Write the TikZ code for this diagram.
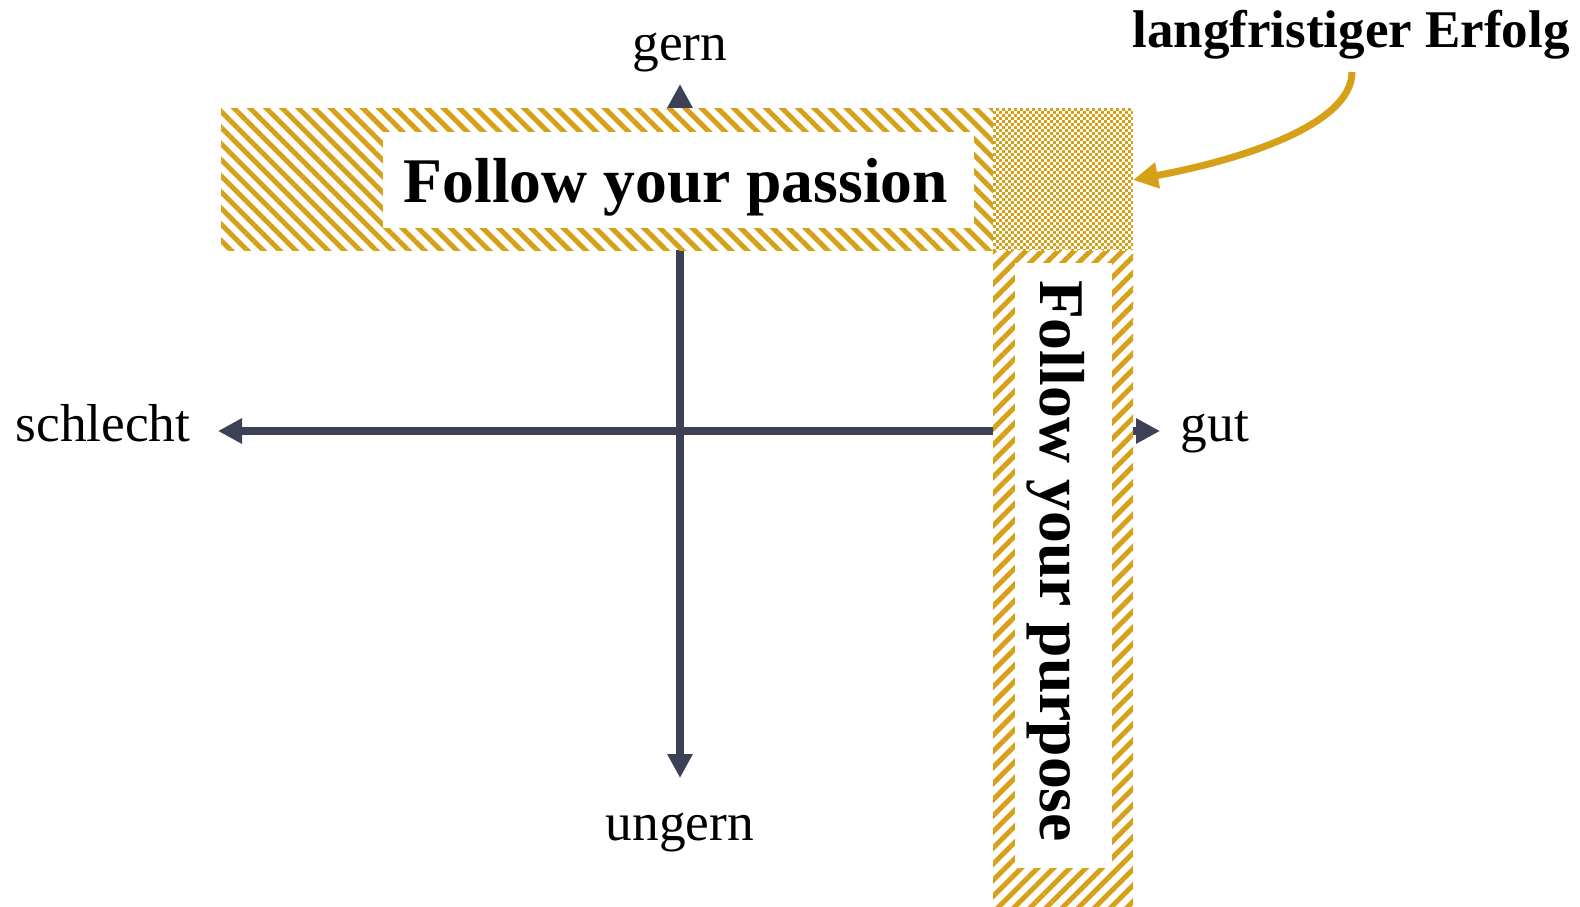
\documentclass[tikz,border=0pt]{standalone}
\usepackage{fontspec}
\setmainfont{Liberation Serif}
\usetikzlibrary{patterns.meta,arrows.meta}
\definecolor{gold}{RGB}{214,160,24}
\definecolor{axisc}{RGB}{60,65,85}
\begin{document}
\begin{tikzpicture}[x=0.5pt,y=-0.5pt,
  axisline/.style={draw=axisc, line width=3.6pt, {Triangle[length=12pt,width=12pt]}-{Triangle[length=12pt,width=12pt]}},
  hatchnw/.style={preaction={fill=white}, pattern={Lines[angle=-45,distance=5.7pt,line width=2.5pt]}, pattern color=gold},
  hatchne/.style={preaction={fill=white}, pattern={Lines[angle=45,distance=5.7pt,line width=2.5pt]}, pattern color=gold},
  checkcell/.style={fill=white},
  whitebox/.style={fill=white},
  axlabel/.style={inner sep=0pt, anchor=base, font=\fontsize{26.7}{32}\selectfont},
  bigtitle/.style={inner sep=0pt, anchor=base, font=\fontsize{31.8}{38}\selectfont\bfseries},
  goldarrow/.style={draw=gold, line width=3.5pt, -{Triangle[length=12.5pt,width=12.5pt]}}
]
\useasboundingbox (0,0) rectangle (1580,906);

% axes
\coordinate (L) at (218,431);
\coordinate (R) at (1160,431);
\coordinate (T) at (680,84);
\coordinate (B) at (680,778);
\draw[axisline] (L) -- (R);
\draw[axisline] (B) -- (T);

% bands
\path[hatchnw] (221,108) rectangle (993,250);
\path[hatchne] (993,250) rectangle (1133,906);
\fill[gold] (993,108) rectangle (1133,250);
\begin{scope}
  \clip (993,108) rectangle (1133,250);
  \foreach \i in {0,...,46} {
    \foreach \j in {0,2,...,46} {
      \path[checkcell] ({993+3*\i},{108+3*(\j+mod(\i,2))}) rectangle +(2.6,2.6);
    }
  }
\end{scope}
\path[whitebox] (383,132) rectangle (974,228);
\path[whitebox] (1015,263) rectangle (1112,868);

% texts
\node[bigtitle] (passion) at (676,202) {Follow your passion};
\node[bigtitle, rotate=-90] (purpose) at (1040,561) {Follow your purpose};
\node[axlabel] (gern) at (680,60) {gern};
\node[axlabel] (ungern) at (680,840) {ungern};
\node[axlabel] (schlecht) at (103,441) {schlecht};
\node[axlabel] (gut) at (1215,441) {gut};
\node[inner sep=0pt, anchor=base, font=\fontsize{26.5}{32}\selectfont\bfseries] (erfolg) at (1351,47) {langfristiger Erfolg};

% callout arrow
\coordinate (aStart) at (1352,72);
\coordinate (aEnd) at (1133,180);
\draw[goldarrow] (aStart) .. controls (1352,125) and (1240,160) .. (aEnd);
\end{tikzpicture}
\end{document}
